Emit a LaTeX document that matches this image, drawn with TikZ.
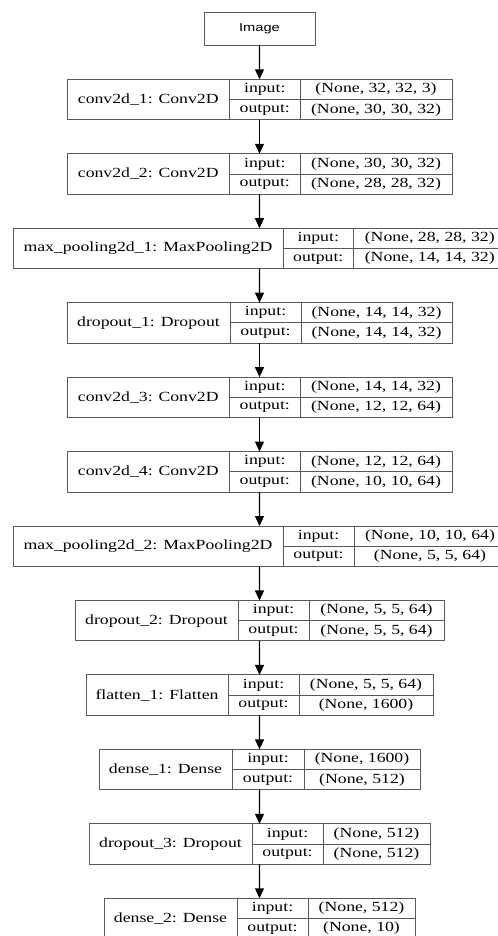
\documentclass[tikz,border=0pt]{standalone}
\usepackage{fontspec}
\usepackage{graphicx}
\setmainfont{Liberation Serif}
\newfontfamily\imgfont{Liberation Sans}
\usetikzlibrary{arrows.meta}

% widened text, as in the rendered model graph
\newcommand\st[1]{\scalebox{1.27}[1]{#1}}

\tikzset{
  cell/.style={draw=black!65, line width=1bp, inner sep=0pt, outer sep=0pt,
               font=\fontsize{14}{16}\selectfont, text=black},
  outerbox/.style={draw=black!65, line width=1bp, inner sep=0pt, outer sep=0pt,
                   minimum height=40.5bp},
  link/.style={draw=black, line width=1.2bp, -{Triangle[length=10bp,width=9bp]}},
}

% \layer{name}{top}{left}{split1}{split2}{right}{label}{input shape}{output shape}
\newcommand\layer[9]{%
  \pgfmathsetmacro\wA{#4-#3}%
  \pgfmathsetmacro\wB{#5-#4}%
  \pgfmathsetmacro\wC{#6-#5}%
  \pgfmathsetmacro\wT{#6-#3}%
  \node[outerbox, minimum width=\wT bp, anchor=north west] (#1) at (#3,#2) {};
  \node[cell, minimum width=\wA bp, minimum height=40.5bp, anchor=north west]
    (#1-name) at (#3,#2) {\st{#7}};
  \node[cell, minimum width=\wB bp, minimum height=20.25bp, anchor=north west]
    (#1-in) at (#4,#2) {\st{input:}};
  \node[cell, minimum width=\wB bp, minimum height=20.25bp, anchor=north west]
    (#1-out) at (#1-in.south west) {\st{output:}};
  \node[cell, minimum width=\wC bp, minimum height=20.25bp, anchor=north west]
    (#1-ins) at (#1-in.north east) {\st{#8}};
  \node[cell, minimum width=\wC bp, minimum height=20.25bp, anchor=north west]
    (#1-outs) at (#1-ins.south west) {\st{#9}};
}

\begin{document}
\begin{tikzpicture}[x=1bp, y=-1bp]
  \useasboundingbox (0,0) rectangle (498,936);

  \node[cell, minimum width=111bp, minimum height=33bp,
        font=\imgfont\fontsize{11.5}{13}\selectfont] (img) at (259.5,28.5)
        {\scalebox{1.28}[1]{Image}};

  \layer{l1}{79.3}{67}{229.5}{300}{452}{conv2d\_1: Conv2D}{(None, 32, 32, 3)}{(None, 30, 30, 32)}
  \layer{l2}{153.75}{67}{229.5}{300}{452}{conv2d\_2: Conv2D}{(None, 30, 30, 32)}{(None, 28, 28, 32)}
  \layer{l3}{228.2}{13}{283}{353.5}{506}{max\_pooling2d\_1: MaxPooling2D}{(None, 28, 28, 32)}{(None, 14, 14, 32)}
  \layer{l4}{302.65}{67}{230}{301}{452}{dropout\_1: Dropout}{(None, 14, 14, 32)}{(None, 14, 14, 32)}
  \layer{l5}{377.1}{67}{229.5}{300}{452}{conv2d\_3: Conv2D}{(None, 14, 14, 32)}{(None, 12, 12, 64)}
  \layer{l6}{451.55}{67}{229.5}{300}{452}{conv2d\_4: Conv2D}{(None, 12, 12, 64)}{(None, 10, 10, 64)}
  \layer{l7}{526}{13}{283}{354}{506}{max\_pooling2d\_2: MaxPooling2D}{(None, 10, 10, 64)}{(None, 5, 5, 64)}
  \layer{l8}{600.45}{75}{238}{309}{444}{dropout\_2: Dropout}{(None, 5, 5, 64)}{(None, 5, 5, 64)}
  \layer{l9}{674.9}{86}{228}{299}{433}{flatten\_1: Flatten}{(None, 5, 5, 64)}{(None, 1600)}
  \layer{l10}{749.35}{99}{232}{304}{420}{dense\_1: Dense}{(None, 1600)}{(None, 512)}
  \layer{l11}{823.8}{89}{252}{323}{430}{dropout\_3: Dropout}{(None, 512)}{(None, 512)}
  \layer{l12}{898.25}{104}{237}{308}{415}{dense\_2: Dense}{(None, 512)}{(None, 10)}

  \draw[link] (img.south) -- (l1.north);
  \draw[link] (l1.south) -- (l2.north);
  \draw[link] (l2.south) -- (l3.north);
  \draw[link] (l3.south) -- (l4.north);
  \draw[link] (l4.south) -- (l5.north);
  \draw[link] (l5.south) -- (l6.north);
  \draw[link] (l6.south) -- (l7.north);
  \draw[link] (l7.south) -- (l8.north);
  \draw[link] (l8.south) -- (l9.north);
  \draw[link] (l9.south) -- (l10.north);
  \draw[link] (l10.south) -- (l11.north);
  \draw[link] (l11.south) -- (l12.north);
\end{tikzpicture}
\end{document}
